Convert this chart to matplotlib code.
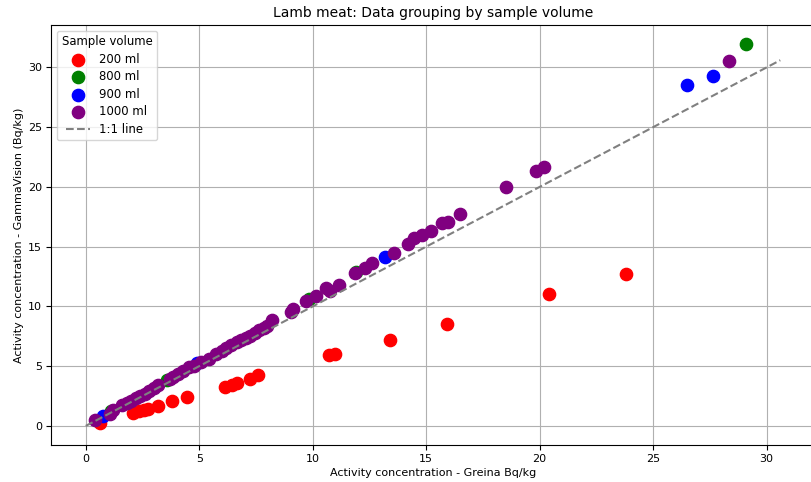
import matplotlib
matplotlib.use("Agg")
import matplotlib.pyplot as plt

# Greina (x) vs GammaVision (y) activity concentrations, Bq/kg, per sample volume
greina_200 = [0.65, 2.1, 2.35, 2.55, 2.75, 3.2, 3.78, 4.48, 6.15, 6.45, 6.65, 7.25, 7.6,
              10.7, 11.0, 13.4, 15.9, 20.4, 23.8]
gv_200 = [0.25, 1.08, 1.22, 1.33, 1.45, 1.7, 2.1, 2.38, 3.22, 3.42, 3.6, 3.95, 4.25,
          5.9, 6.0, 7.15, 8.55, 11.05, 12.75]

greina_800 = [1.1, 3.6, 9.85, 11.9, 29.1]
gv_800 = [1.25, 3.85, 10.6, 12.85, 31.95]

greina_900 = [0.75, 4.9, 13.2, 26.5, 27.65]
gv_900 = [0.85, 5.3, 14.15, 28.5, 29.3]

greina_1000 = [0.4, 1.05, 1.2, 1.6, 1.8, 2.0, 2.2, 2.4, 2.6, 2.8, 3.0, 3.2, 3.7, 3.85,
               4.05, 4.3, 4.55, 4.75, 5.1, 5.45, 5.75, 6.0, 6.2, 6.4, 6.65, 6.85, 7.05,
               7.25, 7.45, 7.65, 7.85, 8.0, 8.2, 9.05, 9.15, 9.7, 10.15, 10.6, 10.75,
               11.15, 11.85, 12.3, 12.6, 13.6, 14.2, 14.45, 14.8, 15.2, 15.7, 15.95,
               16.5, 18.5, 19.85, 20.2, 28.35]
gv_1000 = [0.47, 1.0, 1.3, 1.75, 1.9, 2.1, 2.3, 2.5, 2.7, 2.95, 3.2, 3.4, 3.95, 4.1,
           4.35, 4.6, 4.9, 5.05, 5.35, 5.6, 6.05, 6.25, 6.5, 6.75, 7.0, 7.15, 7.35,
           7.55, 7.8, 8.0, 8.2, 8.4, 8.9, 9.55, 9.75, 10.45, 10.85, 11.5, 11.3,
           11.8, 12.8, 13.2, 13.6, 14.5, 15.25, 15.75, 16.0, 16.35, 17.0, 17.1,
           17.7, 20.0, 21.3, 21.65, 30.55]

line_extent = [0.0, 30.6]

groups = [
    ("200 ml", greina_200, gv_200, "red"),
    ("800 ml", greina_800, gv_800, "green"),
    ("900 ml", greina_900, gv_900, "blue"),
    ("1000 ml", greina_1000, gv_1000, "purple"),
]

fs = 8

fig = plt.figure(figsize=(8.12, 4.82), dpi=100)
ax = fig.add_axes([51 / 812, 37 / 482, 764 / 812, 420 / 482])

for label, xs, ys, color in groups:
    ax.scatter(xs, ys, s=78, color=color, label=label, zorder=2)

ax.plot(line_extent, line_extent, linestyle="--", color="gray", linewidth=1.5,
        label="1:1 line", zorder=3)

ax.set_title("Lamb meat: Data grouping by sample volume", fontsize=10)
ax.set_xlabel("Activity concentration - Greina Bq/kg", fontsize=fs, labelpad=3)
ax.set_ylabel("Activity concentration - GammaVision (Bq/kg)", fontsize=fs, labelpad=3)
ax.tick_params(labelsize=fs, pad=3)
ax.grid(True, zorder=0)
ax.set_axisbelow(True)

leg = ax.legend(title="Sample volume", loc="upper left", fontsize=8.4,
                title_fontsize=8.4, labelspacing=0.38)

fig.savefig("out.png", dpi=100)
